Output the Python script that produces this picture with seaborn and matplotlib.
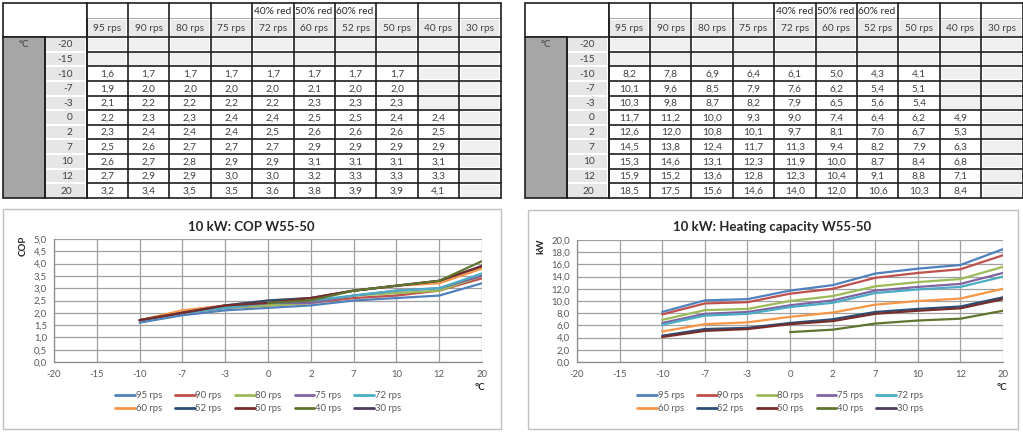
import numpy as np
import pandas as pd
import matplotlib
matplotlib.use("Agg")
import matplotlib.pyplot as plt
from matplotlib.patches import Rectangle
from matplotlib.lines import Line2D
import seaborn as sns

temps = [-20, -15, -10, -7, -3, 0, 2, 7, 10, 12, 20]
series = ["95 rps", "90 rps", "80 rps", "75 rps", "72 rps",
          "60 rps", "52 rps", "50 rps", "40 rps", "30 rps"]
top_notes = ["", "", "", "", "40% red", "50% red", "60% red", "", "", ""]
nan = np.nan

cop_95 = [nan, nan, 1.6, 1.9, 2.1, 2.2, 2.3, 2.5, 2.6, 2.7, 3.2]
cop_90 = [nan, nan, 1.7, 2.0, 2.2, 2.3, 2.4, 2.6, 2.7, 2.9, 3.4]
cop_80 = [nan, nan, 1.7, 2.0, 2.2, 2.3, 2.4, 2.7, 2.8, 2.9, 3.5]
cop_75 = [nan, nan, 1.7, 2.0, 2.2, 2.4, 2.4, 2.7, 2.9, 3.0, 3.5]
cop_72 = [nan, nan, 1.7, 2.0, 2.2, 2.4, 2.5, 2.7, 2.9, 3.0, 3.6]
cop_60 = [nan, nan, 1.7, 2.1, 2.3, 2.5, 2.6, 2.9, 3.1, 3.2, 3.8]
cop_52 = [nan, nan, 1.7, 2.0, 2.3, 2.5, 2.6, 2.9, 3.1, 3.3, 3.9]
cop_50 = [nan, nan, 1.7, 2.0, 2.3, 2.4, 2.6, 2.9, 3.1, 3.3, 3.9]
cop_40 = [nan, nan, nan, nan, nan, 2.4, 2.5, 2.9, 3.1, 3.3, 4.1]
cop_30 = [nan] * 11

cap_95 = [nan, nan, 8.2, 10.1, 10.3, 11.7, 12.6, 14.5, 15.3, 15.9, 18.5]
cap_90 = [nan, nan, 7.8, 9.6, 9.8, 11.2, 12.0, 13.8, 14.6, 15.2, 17.5]
cap_80 = [nan, nan, 6.9, 8.5, 8.7, 10.0, 10.8, 12.4, 13.1, 13.6, 15.6]
cap_75 = [nan, nan, 6.4, 7.9, 8.2, 9.3, 10.1, 11.7, 12.3, 12.8, 14.6]
cap_72 = [nan, nan, 6.1, 7.6, 7.9, 9.0, 9.7, 11.3, 11.9, 12.3, 14.0]
cap_60 = [nan, nan, 5.0, 6.2, 6.5, 7.4, 8.1, 9.4, 10.0, 10.4, 12.0]
cap_52 = [nan, nan, 4.3, 5.4, 5.6, 6.4, 7.0, 8.2, 8.7, 9.1, 10.6]
cap_50 = [nan, nan, 4.1, 5.1, 5.4, 6.2, 6.7, 7.9, 8.4, 8.8, 10.3]
cap_40 = [nan, nan, nan, nan, nan, 4.9, 5.3, 6.3, 6.8, 7.1, 8.4]
cap_30 = [nan] * 11

cop = [cop_95, cop_90, cop_80, cop_75, cop_72, cop_60, cop_52, cop_50, cop_40, cop_30]
cap = [cap_95, cap_90, cap_80, cap_75, cap_72, cap_60, cap_52, cap_50, cap_40, cap_30]

colors = ["#4F81BD", "#C0504D", "#9BBB59", "#8064A2", "#4BACC6",
          "#F79646", "#2C4D75", "#772C2A", "#5F7530", "#4D3B62"]
palette = dict(zip(series, colors))

sns.set_style("white")
plt.rcParams["font.family"] = ["Lato", "DejaVu Sans"]

W, H = 1023, 432
fig = plt.figure(figsize=(W / 100, H / 100), dpi=100)

# background axes in pixel units for the tables and chart frames
tab = fig.add_axes([0, 0, 1, 1], zorder=0)
tab.set_xlim(0, W)
tab.set_ylim(H, 0)
tab.axis("off")

def fmt(v):
    return f"{v:.1f}".replace(".", ",")

def draw_table(x0, values):
    dark = "#1e1e1e"
    top, h1, h2 = 3, 15, 19
    y_data = top + h1 + h2
    row_h = (198 - y_data) / 11
    grey_w, temp_w, data_w = 41.5, 42, 41.4
    xd = x0 + grey_w + temp_w
    x_end = xd + data_w * 10
    y_end = y_data + row_h * 11
    # top-left block
    tab.add_patch(Rectangle((x0, top), grey_w + temp_w, h1 + h2, fc="white", ec=dark, lw=1.2))
    # grey unit column
    tab.add_patch(Rectangle((x0, y_data), grey_w, row_h * 11, fc="#A6A6A6", ec=dark, lw=1.2))
    tab.text(x0 + grey_w / 2, y_data + row_h / 2, "°C", ha="center", va="center",
             fontsize=7, color="#404040")
    # header cells
    for j in range(10):
        cx = xd + j * data_w
        tab.add_patch(Rectangle((cx, top), data_w, h1, fc="white", ec="none"))
        tab.add_patch(Rectangle((cx + 1.5, top + h1 + 1.5), data_w - 3, h2 - 3, fc="#E9E9E9", ec="none"))
        if top_notes[j]:
            tab.text(cx + 1.5, top + h1 / 2 + 1, top_notes[j], ha="left", va="center",
                     fontsize=7.3, color="#262626")
        tab.text(cx + data_w / 2, top + h1 + h2 / 2 + 1, series[j], ha="center", va="center",
                 fontsize=7.3, color="#404040")
    tab.plot([xd, x_end], [top + h1, top + h1], color="#9a9a9a", lw=0.6)
    # temperature column and data cells
    for i, t in enumerate(temps):
        cy = y_data + i * row_h
        tab.add_patch(Rectangle((x0 + grey_w + 1.5, cy + 1), temp_w - 3, row_h - 2, fc="#E6E6E6", ec="none"))
        tab.text(xd - 14, cy + row_h / 2 + 0.5, str(t), ha="right", va="center",
                 fontsize=7.3, color="#404040")
        for j in range(10):
            v = values[j][i]
            cx = xd + j * data_w
            if np.isnan(v):
                tab.add_patch(Rectangle((cx + 1.5, cy + 1.5), data_w - 3, row_h - 3, fc="#F0F0F0", ec="none"))
            else:
                tab.text(cx + data_w / 2, cy + row_h / 2 + 0.5, fmt(v), ha="center", va="center",
                         fontsize=7.3, color="#404040")
    # grid lines
    for j in range(11):
        xx = xd + j * data_w
        tab.plot([xx, xx], [top, y_end], color=dark, lw=1.2)
    for i in range(12):
        yy = y_data + i * row_h
        tab.plot([xd, x_end], [yy, yy], color=dark, lw=1.2)
    tab.plot([xd, x_end], [top, top], color=dark, lw=1.2)
    tab.plot([x0 + grey_w + temp_w, x0 + grey_w + temp_w], [y_data, y_end], color=dark, lw=1.2)
    tab.plot([x0 + grey_w, x0 + grey_w], [y_data, y_end], color=dark, lw=1.2)
    tab.plot([x0 + grey_w, x0 + grey_w + temp_w], [y_end, y_end], color=dark, lw=1.2)

# values as table columns per series
cop_cols = [np.array(s) for s in cop]
cap_cols = [np.array(s) for s in cap]
draw_table(3, cop_cols)
draw_table(525, cap_cols)

# chart frames
tab.add_patch(Rectangle((2.5, 208.5), 498, 220, fc="white", ec="#BFBFBF", lw=1))
tab.add_patch(Rectangle((527.5, 209.5), 490, 219, fc="white", ec="#BFBFBF", lw=1))

def long_df(vals):
    rows = []
    for name, s in zip(series, vals):
        for k, v in enumerate(s):
            if not np.isnan(v):
                rows.append({"pos": k, "value": v, "series": name})
    return pd.DataFrame(rows)

def draw_chart(rect, vals, ymax, ystep, title, ylabel, title_x, ylabel_x, xlabel_x, legend_x):
    left, right, top, bottom = rect
    ax = fig.add_axes([left / W, 1 - bottom / H, (right - left) / W, (bottom - top) / H], zorder=2)
    ax.set_facecolor("none")
    sns.lineplot(data=long_df(vals), x="pos", y="value", hue="series", hue_order=series,
                 palette=palette, linewidth=1.6, legend=False, errorbar=None, ax=ax)
    ax.set_xlim(0, len(temps) - 1)
    ax.set_ylim(0, ymax)
    ax.set_xticks(range(len(temps)))
    ax.set_xticklabels([str(t) for t in temps])
    yt = np.arange(0, ymax + ystep / 2, ystep)
    ax.set_yticks(yt)
    ax.set_yticklabels([fmt(v) for v in yt])
    ax.grid(True, color="#A0A0A0", lw=0.9)
    ax.set_axisbelow(True)
    for sp in ["top", "right"]:
        ax.spines[sp].set_visible(False)
    for sp in ["left", "bottom"]:
        ax.spines[sp].set_color("#8C8C8C")
        ax.spines[sp].set_linewidth(0.9)
    ax.tick_params(axis="both", length=0, labelsize=6.8, labelcolor="#595959")
    ax.tick_params(axis="x", pad=6)
    ax.tick_params(axis="y", pad=5)
    ax.set_xlabel("")
    ax.set_ylabel("")
    fig.text(title_x / W, 1 - 227 / H, title, ha="center", va="center",
             fontsize=9.5, fontweight="bold", color="#262626")
    fig.text(ylabel_x / W, 1 - 246 / H, ylabel, ha="center", va="center", rotation=90,
             fontsize=7, fontweight="bold", color="#262626")
    fig.text(xlabel_x / W, 1 - 388 / H, "°C", ha="center", va="center",
             fontsize=7, fontweight="bold", color="#262626")
    handles = [Line2D([], [], color=c, lw=2) for c in colors]
    order = [0, 5, 1, 6, 2, 7, 3, 8, 4, 9]
    fig.legend([handles[k] for k in order], [series[k] for k in order],
               loc="center", bbox_to_anchor=(legend_x / W, 1 - 402 / H), ncol=5,
               frameon=False, fontsize=6.8, handlelength=2.1, handletextpad=0.05,
               columnspacing=1.4, labelspacing=0.42, borderpad=0,
               labelcolor="#595959")
    return ax

draw_chart((54, 482, 239, 362), cop, 5.0, 0.5, "10 kW: COP W55-50", "COP", 251, 23, 480, 258)
draw_chart((577, 1003, 240, 362), cap, 20.0, 2.0, "10 kW: Heating capacity W55-50", "kW", 772, 541, 1002, 780)

fig.savefig("out.png", dpi=100)
